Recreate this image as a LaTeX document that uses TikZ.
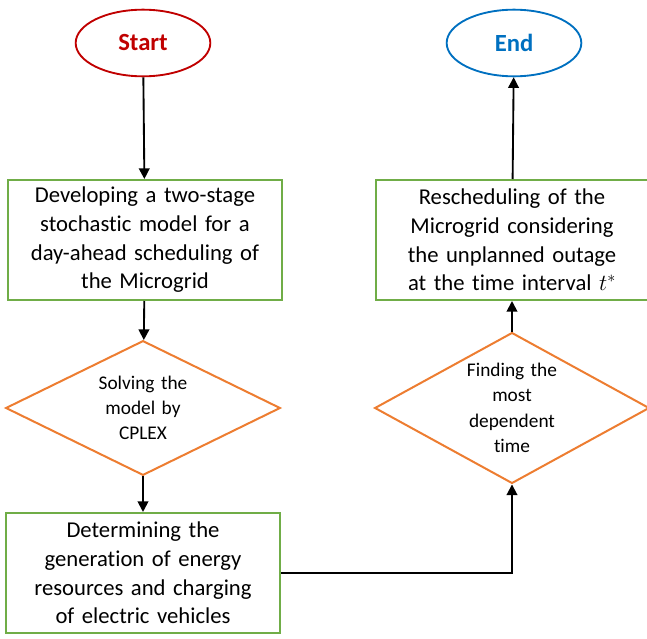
\documentclass[tikz,border=0pt]{standalone}
\usepackage{fontspec}
\setmainfont[Ligatures=NoCommon]{Carlito}
\usepackage{tikz}
\usetikzlibrary{arrows.meta,shapes.geometric}
\definecolor{startred}{RGB}{192,0,0}
\definecolor{endblue}{RGB}{0,112,192}
\definecolor{boxgreen}{RGB}{112,173,71}
\definecolor{decorange}{RGB}{237,125,49}

\begin{document}
\begin{tikzpicture}[x=0.75pt,y=-0.75pt,
		terminal/.style={ellipse, draw, line width=1.4pt, minimum width=101pt, minimum height=50pt, inner sep=0pt, font=\fontsize{18.5}{22}\selectfont\bfseries},
		process/.style={rectangle, draw=boxgreen, fill=white, line width=1.5pt, minimum width=206pt, minimum height=90pt, text width=204pt, align=center, inner sep=0pt, font=\fontsize{17}{21.5}\selectfont},
		decision/.style={diamond, draw=decorange, line width=1.5pt, minimum width=206pt, minimum height=101pt, text width=78pt, align=center, inner sep=-8pt, font=\fontsize{14.5}{19}\selectfont},
		flow/.style={line width=1.4pt, -{Triangle[length=8pt,width=8pt]}}]
			\useasboundingbox (0,0) rectangle (647,639);
			% left column
			\node[terminal, draw=startred, text=startred] (start) at (143,43) {Start};
			\node[process] (develop) at (145,240) {Developing a two-stage\\stochastic model for a\\day-ahead scheduling of\\the Microgrid};
			\node[decision] (solve) at (143,408) {Solving the\\model by\\CPLEX};
			\node[process] (determine) at (143,573) {Determining the\\generation of energy\\resources and charging\\of electric vehicles};
			% right column
			\node[decision] (finding) at (512,408) {Finding the\\most\\dependent\\time};
			\node[process, minimum width=203pt] (resched) at (512,240) {Rescheduling of the\\Microgrid considering\\the unplanned outage\\at the time interval $t^{*}$};
			\node[terminal, draw=endblue, text=endblue] (end) at (514,43) {End};
			\draw[flow] (start) -- (develop);
			\draw[flow] (develop) -- (solve);
			\draw[flow] (solve) -- (determine);
			\draw[flow] (determine.east) -| (finding.south);
			\draw[flow] (finding) -- (resched);
			\draw[flow] (resched) -- (end);
		\end{tikzpicture}
\end{document}
